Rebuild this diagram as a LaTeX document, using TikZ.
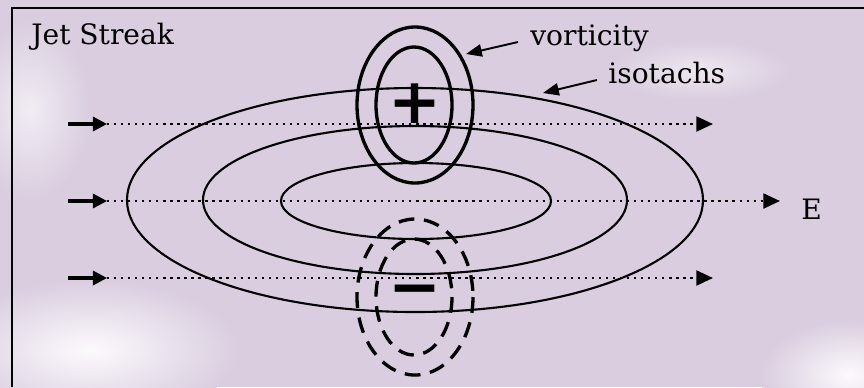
\documentclass[tikz,border=0pt]{standalone}
\usepackage{fontspec}
\setmainfont{DejaVu Serif}
\newfontfamily\signfont{DejaVu Sans}
\usetikzlibrary{arrows.meta,positioning}
\definecolor{bgpurple}{RGB}{217,205,223}
\definecolor{cloudwhite}{RGB}{252,250,253}

\begin{document}
\begin{tikzpicture}[x=0.02cm, y=-0.02cm,
  isotach/.style={line width=1.2pt},
  vortpos/.style={line width=1.9pt},
  vortneg/.style={line width=1.9pt, dash pattern=on 9pt off 5.5pt},
  flow/.style={line width=1.4pt, dash pattern=on 1.3pt off 2.7pt,
    -{Triangle[length=9.5pt,width=8.5pt]}},
  inflow/.style={line width=1.8pt, -{Triangle[length=8pt,width=8pt]}},
  pointer/.style={line width=1.1pt, -{Triangle[length=9pt,width=7pt]}},
  lbl/.style={font=\fontsize{16}{19}\selectfont, inner sep=0pt, anchor=west},
  sign/.style={font=\signfont\fontsize{36}{36}\selectfont\bfseries, inner sep=0pt},
]
  % Background
  \useasboundingbox (0,0) rectangle (864,387);
  \fill[bgpurple] (0,0) rectangle (864,387);
  \shade[inner color=cloudwhite, outer color=bgpurple] (90,350) ellipse [x radius=150, y radius=70];
  \shade[inner color=cloudwhite, outer color=bgpurple] (850,375) ellipse [x radius=90, y radius=55];
  \shade[inner color=cloudwhite!70!bgpurple, outer color=bgpurple] (30,110) ellipse [x radius=60, y radius=90];
  \shade[inner color=cloudwhite!60!bgpurple, outer color=bgpurple] (700,70) ellipse [x radius=90, y radius=30];
  \draw[line width=1.2pt] (12,387) |- (864,8);

  % Isotachs
  \draw[isotach] (415,200) ellipse [x radius=288, y radius=112];
  \draw[isotach] (415,200) ellipse [x radius=212, y radius=74];
  \draw[isotach] (416,201) ellipse [x radius=135, y radius=38];

  % Vorticity
  \draw[vortpos] (415,105) ellipse [x radius=58, y radius=78];
  \draw[vortpos] (414,105) ellipse [x radius=38, y radius=58];
  \draw[vortneg] (415,297) ellipse [x radius=58, y radius=78];
  \draw[vortneg] (414,297) ellipse [x radius=38, y radius=58];
  \node[sign] (plus) at (415,104) {+};
  \node[sign] (minus) at (415,297) {\symbol{"2212}};

  % Flow
  \foreach \row/\yy/\xend in {top/124/713, mid/201/780, bot/278/713} {
    \coordinate (w\row) at (68,\yy);
    \coordinate (m\row) at (107,\yy);
    \coordinate (e\row) at (\xend,\yy);
    \draw[inflow] (w\row) -- (m\row);
    \draw[flow] (m\row) -- (e\row);
  }

  % Labels
  \node[lbl] (title) at (31,37) {Jet Streak};
  \node[lbl] (vort) at (530,38) {vorticity};
  \node[lbl] (isot) at (608,73) {isotachs};
  \node[lbl] (east) at (801,209) {E};

  % Pointers
  \coordinate (vtip) at (466,54);
  \coordinate (itip) at (543,93);
  \draw[pointer] ([shift={(-12,4)}]vort.west) -- (vtip);
  \draw[pointer] ([shift={(-11,7)}]isot.west) -- (itip);
\end{tikzpicture}
\end{document}
